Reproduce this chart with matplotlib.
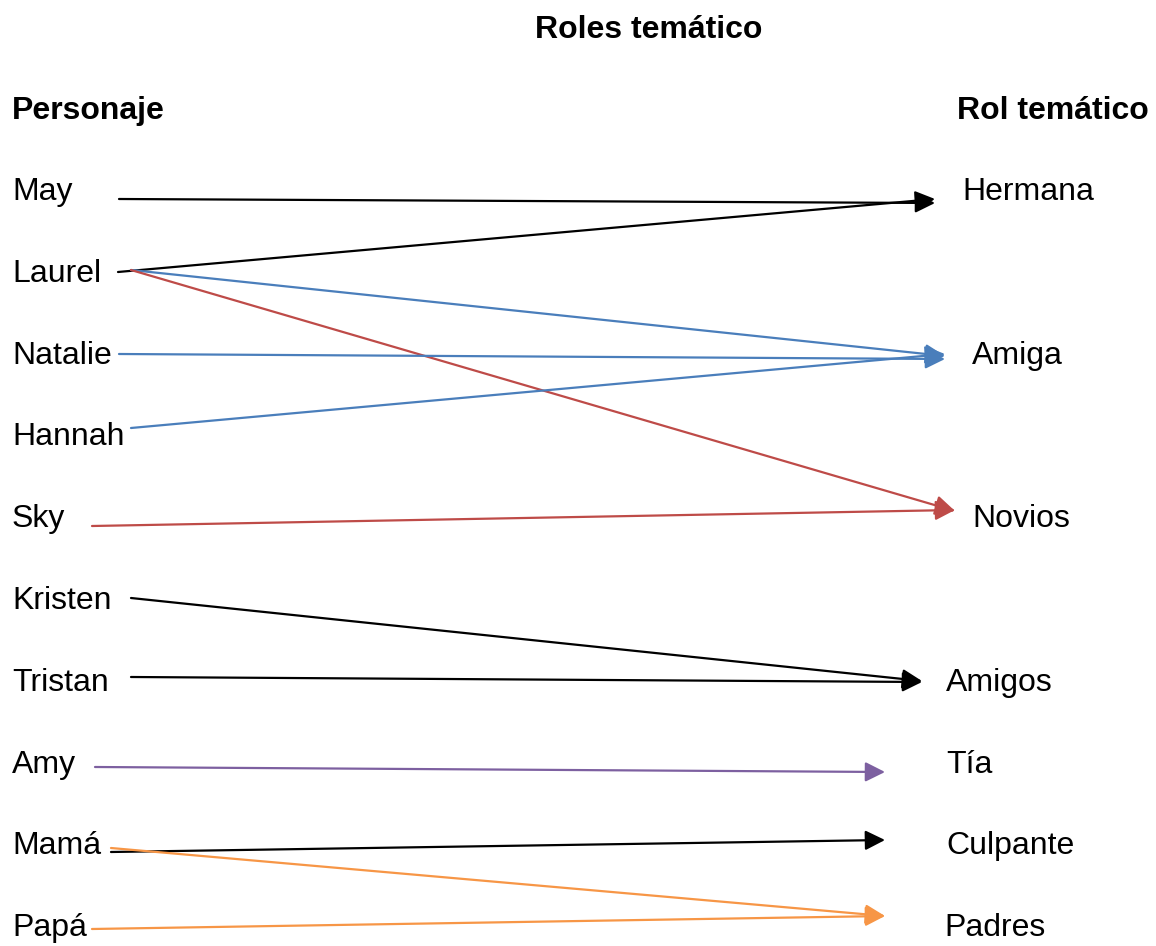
import matplotlib.pyplot as plt

plt.rcParams['font.family'] = ['Liberation Sans', 'DejaVu Sans']

# Characters (left column) and thematic roles (right column)
personajes = ['May', 'Laurel', 'Natalie', 'Hannah', 'Sky', 'Kristen',
              'Tristan', 'Amy', 'Mamá', 'Papá']
roles = ['Hermana', 'Amiga', 'Novios', 'Amigos', 'Tía', 'Culpante', 'Padres']

# Links: (character, role, colour)
links = [
    ('May', 'Hermana', 'black'),
    ('Laurel', 'Hermana', 'black'),
    ('Laurel', 'Amiga', '#4a7ebb'),
    ('Laurel', 'Novios', '#be4b48'),
    ('Natalie', 'Amiga', '#4a7ebb'),
    ('Hannah', 'Amiga', '#4a7ebb'),
    ('Sky', 'Novios', '#be4b48'),
    ('Kristen', 'Amigos', 'black'),
    ('Tristan', 'Amigos', 'black'),
    ('Amy', 'Tía', '#7d60a0'),
    ('Mamá', 'Culpante', 'black'),
    ('Mamá', 'Padres', '#f79646'),
    ('Papá', 'Padres', '#f79646'),
]

# layout (pixel coordinates on a 1156x946 canvas)
row_y = {p: 192 + i * 81.8 for i, p in enumerate(personajes)}
role_row = {'Hermana': 0, 'Amiga': 2, 'Novios': 4, 'Amigos': 6,
            'Tía': 7, 'Culpante': 8, 'Padres': 9}
role_x = {'Hermana': 962, 'Amiga': 972, 'Novios': 972, 'Amigos': 946,
          'Tía': 946, 'Culpante': 946, 'Padres': 944}
# start / end points of each arrow, in the same order as links
starts = [(119, 199), (118, 272), (131, 270), (131, 270), (119, 354),
          (131, 428), (92, 526), (131, 598), (131, 677), (95, 767),
          (111, 852), (111, 848), (92, 929)]
ends = [(935, 203), (935, 199), (945, 356), (955, 511), (945, 359),
        (945, 354), (955, 510), (922, 681), (922, 682), (885, 772),
        (885, 840), (885, 916), (885, 916)]

fig = plt.figure(figsize=(11.56, 9.46), dpi=100)
ax = fig.add_axes([0, 0, 1, 1])
ax.set_xlim(0, 1156)
ax.set_ylim(946, 0)
ax.axis('off')

fs = 23
ax.text(649, 30, 'Roles temático', fontsize=fs, fontweight='bold',
        ha='center', va='center')
ax.text(12, 111, 'Personaje', fontsize=fs, fontweight='bold', va='center')
ax.text(957, 111, 'Rol temático', fontsize=fs, fontweight='bold', va='center')

for p in personajes:
    ax.text(12, row_y[p], p, fontsize=fs, va='center')
for r in roles:
    ax.text(role_x[r], 192 + role_row[r] * 81.8, r, fontsize=fs, va='center')

for (src, dst, col), s, e in zip(links, starts, ends):
    ax.annotate('', xy=e, xytext=s,
                arrowprops=dict(arrowstyle='-|>,head_length=0.6,head_width=0.3',
                                color=col, lw=1.6, shrinkA=0, shrinkB=0,
                                mutation_scale=20))

fig.savefig('out.png', dpi=100)
